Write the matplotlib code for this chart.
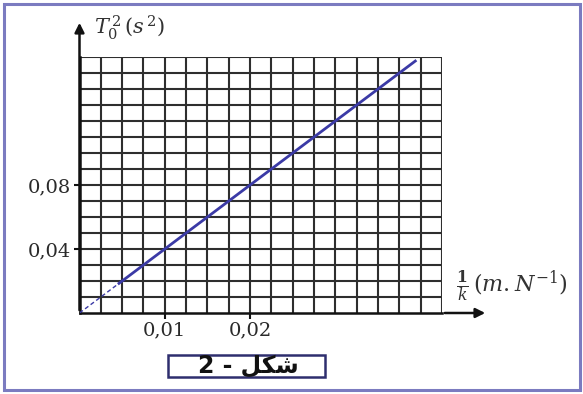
import matplotlib
matplotlib.use("Agg")
import matplotlib.pyplot as plt
from matplotlib.patches import Rectangle
import numpy as np

# Data: T0^2 as a function of 1/k
inv_k_dashed = [0.0, 0.0045]
T2_dashed = [0.0, 0.018]
inv_k_solid = [0.0045, 0.0395]
T2_solid = [0.018, 0.158]

x_tick_values = [0.01, 0.02]
x_tick_labels = ["0,01", "0,02"]
y_tick_values = [0.04, 0.08]
y_tick_labels = ["0,04", "0,08"]

x_max, x_step = 0.0425, 0.0025
y_max, y_step = 0.16, 0.01

W, H = 583, 394
fig = plt.figure(figsize=(W / 100, H / 100), dpi=100)
fig.patch.set_facecolor("white")

def fx(px):
    return px / W

def fy(py):
    return 1 - py / H

left, right, top, bottom = 79.5, 442, 57, 313
ax = fig.add_axes([fx(left), fy(bottom), fx(right) - fx(left), fy(top) - fy(bottom)])
ax.set_xlim(0, x_max)
ax.set_ylim(0, y_max)

grid_color = "#2e2e2e"
for xv in np.arange(1, round(x_max / x_step) + 1) * x_step:
    ax.axvline(xv, color=grid_color, lw=1.5, zorder=1)
for yv in np.arange(1, round(y_max / y_step) + 1) * y_step:
    ax.axhline(yv, color=grid_color, lw=1.5, zorder=1)

for s in ["top", "right"]:
    ax.spines[s].set_visible(False)
for s in ["left", "bottom"]:
    ax.spines[s].set_linewidth(1.8)
    ax.spines[s].set_color("#111111")

serif = ["DejaVu Serif"]
ax.set_xticks(x_tick_values)
ax.set_xticklabels(x_tick_labels, family=serif, fontsize=14, color="#2a2a2a")
ax.set_yticks(y_tick_values)
ax.set_yticklabels(y_tick_labels, family=serif, fontsize=14, color="#2a2a2a")
ax.tick_params(axis="both", direction="out", length=4, width=1.5, color="#111111", pad=2)

line_color = "#3b3aa6"
ax.plot(inv_k_dashed, T2_dashed, color=line_color, lw=1.0, ls=(0, (3, 2)), zorder=3)
ax.plot(inv_k_solid, T2_solid, color=line_color, lw=2.0, zorder=3, solid_capstyle="butt")

# Axis arrows
ax.annotate("", xy=(fx(left), fy(20)), xytext=(fx(left), fy(bottom)),
            xycoords="figure fraction", textcoords="figure fraction",
            arrowprops=dict(arrowstyle="-|>", lw=1.8, color="#111111", mutation_scale=14))
ax.annotate("", xy=(fx(488), fy(bottom)), xytext=(fx(right), fy(bottom)),
            xycoords="figure fraction", textcoords="figure fraction",
            arrowprops=dict(arrowstyle="-|>", lw=1.8, color="#111111", mutation_scale=14))

plt.rcParams["mathtext.fontset"] = "dejavuserif"
fig.text(fx(94), fy(28), r"$T_0^{\,2}\,\left(s^{\,2}\right)$", fontsize=15, color="#333333",
         ha="left", va="center")
fig.text(fx(456), fy(286), r"$\frac{\mathbf{1}}{k}\,\left(m.N^{-1}\right)$", fontsize=16,
         color="#333333", ha="left", va="center")

# Caption box
fig.patches.append(Rectangle((fx(168), fy(377)), fx(325) - fx(168), fy(355) - fy(377),
                             transform=fig.transFigure, fill=False,
                             edgecolor="#2e2e6e", lw=1.8))
caption = "2 - " + "\uFEDE\uFEDC\uFEB7"
fig.text(fx(248), fy(366), caption, family=["DejaVu Sans"], fontsize=17, fontweight="bold",
         ha="center", va="center", color="#111111")

# Outer frame
fig.patches.append(Rectangle((fx(4), fy(390)), fx(580) - fx(4), fy(4) - fy(390),
                             transform=fig.transFigure, fill=False,
                             edgecolor="#7b7bc0", lw=2.2))

fig.savefig("out.png", dpi=100, facecolor="white")
